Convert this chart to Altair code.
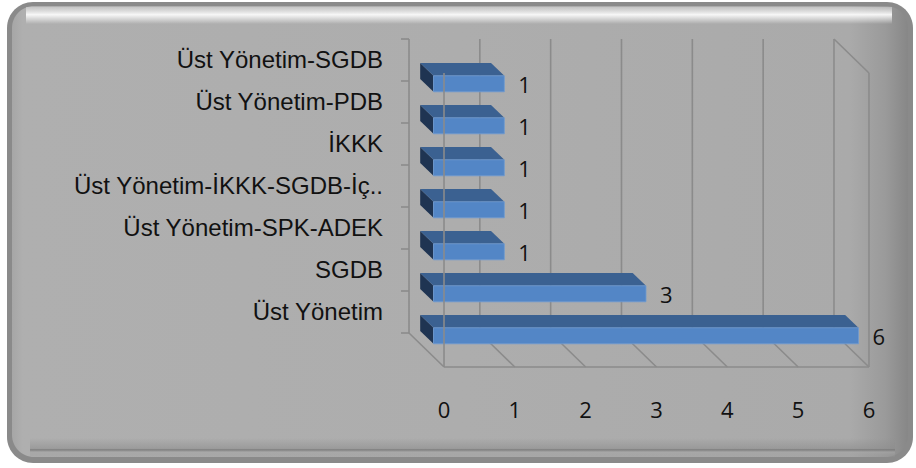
import altair as alt
import pandas as pd

# ---- data -------------------------------------------------------------
categories = [
    "Üst Yönetim-SGDB",
    "Üst Yönetim-PDB",
    "İKKK",
    "Üst Yönetim-İKKK-SGDB-İç..",
    "Üst Yönetim-SPK-ADEK",
    "SGDB",
    "Üst Yönetim",
]
counts = [1, 1, 1, 1, 1, 3, 6]
tick_values = [0, 1, 2, 3, 4, 5, 6]

# ---- layout -----------------------------------------------------------
W, H = 916, 468
UNIT_X = 70.83            # pixels per count on the value axis
STEP_Y = 42               # pixels per category row
PLOT_W = UNIT_X * max(tick_values)
PLOT_H = STEP_Y * len(categories)
PAD_LEFT, PAD_TOP = 444, 73
DEPTH_X, DEPTH_Y = 35, 34         # oblique offset of the back plane (px)
BAR_FRONT, BAR_BACK = 0.30, 0.68  # bar depth, as fractions of box depth
BAR_HALF = 8 / STEP_Y             # half thickness of a bar, in row units
TICK_LEN = 8 / UNIT_X

GRID = "#8b8b8b"
TEXT = "#111111"
LABEL_FONT = "Liberation Sans"
NUM_FONT = "Open Sans"

c_last = len(categories) - 0.5
v_max = max(tick_values)


def proj(v, c, d):
    """Oblique projection: value v, row c, depth d (0 = front, 1 = back)."""
    return v - d * DEPTH_X / UNIT_X, c - d * DEPTH_Y / STEP_Y


x_scale = alt.Scale(domain=[0, v_max], nice=False, zero=False)
y_scale = alt.Scale(domain=[-0.5, c_last], reverse=True, nice=False, zero=False)


def X(f="x"):
    return alt.X(f"{f}:Q", scale=x_scale, axis=None)


def Y(f="y"):
    return alt.Y(f"{f}:Q", scale=y_scale, axis=None)


def px(v):
    return alt.value(v)


one = pd.DataFrame({"k": [0]})

# ---- rounded frame -----------------------------------------------------
def frame_rect(x0, y0, x1, y1, fill, radius=0, opacity=1.0):
    return alt.Chart(one).mark_rect(
        fill=fill, cornerRadius=radius, opacity=opacity
    ).encode(
        x=px(x0 - PAD_LEFT), x2=px(x1 - PAD_LEFT),
        y=px(y0 - PAD_TOP), y2=px(y1 - PAD_TOP),
    )


def lin(stops, horizontal=False):
    return alt.LinearGradient(
        gradient="linear",
        stops=[alt.GradientStop(offset=o, color=c) for o, c in stops],
        x1=0, y1=0, x2=1 if horizontal else 0, y2=0 if horizontal else 1,
    )


frame_outer = frame_rect(7, 2, 913, 463, "#8a8a8a", radius=26)
frame_body = frame_rect(
    12, 6, 908, 457,
    lin([(0, "#a6a6a6"), (0.012, "#afafaf"), (0.5, "#adadad"),
         (0.935, "#aaaaaa"), (0.975, "#9a9a9a"), (1, "#878787")],
        horizontal=True),
    radius=22,
)
frame_bottom = frame_rect(
    30, 438, 895, 457,
    lin([(0, "rgba(140,140,140,0)"), (0.55, "rgba(140,140,140,0.55)"),
         (0.62, "rgba(120,120,120,0.9)"), (0.75, "rgba(165,165,165,0.6)"),
         (1, "rgba(150,150,150,0.2)")]),
)
frame_top = frame_rect(
    26, 7, 892, 24,
    lin([(0, "rgba(220,220,220,0.5)"), (0.45, "rgba(255,255,255,0.9)"),
         (1, "rgba(255,255,255,0)")]),
)

# ---- box: back-wall gridlines, floor, edges ---------------------------
segs = []
for v in tick_values:
    bx, by0 = proj(v, -0.5, 1)
    _, by1 = proj(v, c_last, 1)
    segs.append((bx, by0, bx, by1))                      # back wall gridline
    fx, fy = proj(v, c_last, 0)
    segs.append((bx, by1, fx, fy))                       # floor gridline
for k in range(len(categories) + 1):
    tx, ty = proj(0, k - 0.5, 1)
    segs.append((tx - TICK_LEN, ty, tx, ty))             # axis ticks
segs.append(proj(0, c_last, 0) + proj(v_max, c_last, 0))    # front floor edge
segs.append(proj(v_max, -0.5, 0) + proj(v_max, c_last, 0))  # right edge
segs.append(proj(v_max, -0.5, 1) + proj(v_max, -0.5, 0))    # top right edge
box_df = pd.DataFrame(segs, columns=["x", "y", "x2", "y2"])

box = alt.Chart(box_df).mark_rule(color=GRID, strokeWidth=1.6).encode(
    x=X(), y=Y(), x2="x2:Q", y2="y2:Q"
)

front_edge_df = pd.DataFrame(
    [proj(0, -0.5, 0) + proj(0, c_last, 0)], columns=["x", "y", "x2", "y2"]
)
front_edge = alt.Chart(front_edge_df).mark_rule(color=GRID, strokeWidth=1.6).encode(
    x=X(), y=Y(), x2="x2:Q", y2="y2:Q"
)

# ---- 3-D bars -----------------------------------------------------------
front_rows, top_rows, side_rows, val_rows, cat_rows = [], [], [], [], []
for c, (cat, v) in enumerate(zip(categories, counts)):
    xf0, yf = proj(0, c, BAR_FRONT)
    xfv, _ = proj(v, c, BAR_FRONT)
    xb0, yb = proj(0, c, BAR_BACK)
    xbv, _ = proj(v, c, BAR_BACK)
    front_rows.append(dict(cat=cat, x=xf0, x2=xfv, y=yf - BAR_HALF, y2=yf + BAR_HALF))
    top_rows += [
        dict(cat=cat, y=yf - BAR_HALF, x=xf0, x2=xfv),
        dict(cat=cat, y=yb - BAR_HALF, x=xb0, x2=xbv),
    ]
    side_rows += [
        dict(cat=cat, x=xb0, y=yb - BAR_HALF, y2=yb + BAR_HALF),
        dict(cat=cat, x=xf0, y=yf - BAR_HALF, y2=yf + BAR_HALF),
    ]
    val_rows.append(dict(cat=cat, label=str(v), x=xfv, y=yf))
    lx, ly = proj(0, c, 1)
    cat_rows.append(dict(cat=cat, x=lx, y=ly))

bar_side = alt.Chart(pd.DataFrame(side_rows)).mark_area(
    orient="vertical", color="#1f3452"
).encode(x=X(), y=Y(), y2="y2:Q", detail="cat:N")

bar_top = alt.Chart(pd.DataFrame(top_rows)).mark_area(
    orient="horizontal", color="#3b6191"
).encode(y=Y(), x=X(), x2="x2:Q", detail="cat:N")

bar_front = alt.Chart(pd.DataFrame(front_rows)).mark_rect(
    color="#5386c6", stroke="#6f9ad2", strokeWidth=0.8
).encode(x=X(), x2="x2:Q", y=Y(), y2="y2:Q")

# ---- text ---------------------------------------------------------------
cat_labels = alt.Chart(pd.DataFrame(cat_rows)).mark_text(
    align="right", baseline="middle", dx=-26, dy=1,
    font=LABEL_FONT, fontSize=24, color=TEXT,
).encode(x=X(), y=Y(), text="cat:N")

value_labels = alt.Chart(pd.DataFrame(val_rows)).mark_text(
    align="left", baseline="middle", dx=14, dy=2,
    font=NUM_FONT, fontSize=22, color=TEXT,
).encode(x=X(), y=Y(), text="label:N")

tick_labels = alt.Chart(
    pd.DataFrame({"x": tick_values, "label": [str(t) for t in tick_values]})
).mark_text(
    align="center", baseline="middle",
    font=NUM_FONT, fontSize=22, color=TEXT,
).encode(x=X(), y=px(411 - PAD_TOP), text="label:N")

chart = alt.layer(
    frame_outer, frame_body, frame_bottom, frame_top,
    box, bar_side, bar_top, bar_front, front_edge,
    cat_labels, value_labels, tick_labels,
).properties(
    width=PLOT_W,
    height=PLOT_H,
    padding={"left": PAD_LEFT, "top": PAD_TOP,
             "right": W - PAD_LEFT - PLOT_W, "bottom": H - PAD_TOP - PLOT_H},
    autosize="none",
    background="white",
).configure_view(stroke=None)

chart.save("out.html", embed_options={"renderer": "svg", "actions": False})
